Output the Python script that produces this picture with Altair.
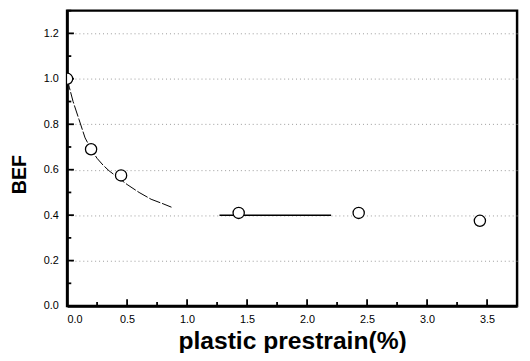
import altair as alt
import pandas as pd

# measured points
px = [0.0, 0.2, 0.45, 1.43, 2.43, 3.44]
py = [1.0, 0.69, 0.575, 0.41, 0.41, 0.375]

# fitted decay curve (dashed)
fit_x = [0.0, 0.02, 0.05, 0.1, 0.15, 0.2, 0.25, 0.3, 0.35, 0.4, 0.45, 0.5, 0.6, 0.7, 0.8, 0.87]
fit_y = [1.0, 0.96, 0.90, 0.82, 0.74, 0.69, 0.65, 0.62, 0.595, 0.575, 0.555, 0.535, 0.50, 0.47, 0.45, 0.435]

# plateau line
hx = [1.27, 2.2]
hy = [0.40, 0.40]

# ticks
x_major = [0.0, 0.5, 1.0, 1.5, 2.0, 2.5, 3.0, 3.5]
x_minor = [0.25, 0.75, 1.25, 1.75, 2.25, 2.75, 3.25, 3.75]
y_major = [0.0, 0.2, 0.4, 0.6, 0.8, 1.0, 1.2]
y_minor = [0.1, 0.3, 0.5, 0.7, 0.9, 1.1, 1.3]

W, H = 457, 300

xs = alt.Scale(domain=[0, 3.75], nice=False, zero=False)
ys = alt.Scale(domain=[0, 1.3], nice=False, zero=False)

xax = alt.Axis(values=x_major, format=".1f", ticks=False, grid=False,
               labelFont="Arial", labelFontSize=11, labelPadding=8, labelColor="black",
               domainColor="black", domainWidth=2.5,
               title="plastic prestrain(%)", titleFont="Arial", titleFontSize=25,
               titleFontWeight="bold", titleColor="black", titlePadding=4)
yax = alt.Axis(values=y_major, format=".1f", ticks=False, grid=True,
               gridColor="#999999", gridDash=[1, 3], gridWidth=1,
               labelFont="Arial", labelFontSize=11, labelPadding=9, labelColor="black",
               domainColor="black", domainWidth=2.5,
               title="BEF", titleFont="Arial", titleFontSize=20,
               titleFontWeight="bold", titleColor="black", titleY=166, titleX=-38)

X = alt.X("x:Q", scale=xs, axis=xax)
Y = alt.Y("y:Q", scale=ys, axis=yax)

pts_df = pd.DataFrame({"x": px, "y": py})
fit_df = pd.DataFrame({"x": fit_x, "y": fit_y})
h_df = pd.DataFrame({"x": hx, "y": hy})

fit = alt.Chart(fit_df).mark_line(color="black", strokeWidth=1, strokeDash=[12, 2]).encode(x=X, y=Y)
hline = alt.Chart(h_df).mark_line(color="black", strokeWidth=1.5).encode(x=X, y=Y)
pts = alt.Chart(pts_df).mark_point(shape="circle", size=130, filled=False, fill="white",
                                   fillOpacity=1, color="black", strokeWidth=1.3,
                                   opacity=1, clip=True).encode(x=X, y=Y)

tick_style = dict(color="black", strokeWidth=1.8)
xmaj = alt.Chart(pd.DataFrame({"x": x_major})).mark_rule(**tick_style).encode(
    x=X, y=alt.YDatum(0), y2=alt.Y2Datum(0.03))
xmin = alt.Chart(pd.DataFrame({"x": x_minor})).mark_rule(**tick_style).encode(
    x=X, y=alt.YDatum(0), y2=alt.Y2Datum(0.018))
ymaj = alt.Chart(pd.DataFrame({"y": y_major})).mark_rule(**tick_style).encode(
    y=Y, x=alt.XDatum(0), x2=alt.X2Datum(0.057))
ymin = alt.Chart(pd.DataFrame({"y": y_minor})).mark_rule(**tick_style).encode(
    y=Y, x=alt.XDatum(0), x2=alt.X2Datum(0.035))

chart = alt.layer(fit, hline, xmaj, xmin, ymaj, ymin, pts).properties(
    width=W, height=H,
    background="white",
    autosize=alt.AutoSizeParams(type="none"),
    padding={"left": 60, "top": 0, "right": 5, "bottom": 45},
).configure_view(stroke="black", strokeWidth=2.5)

chart.save("out.html", embed_options={"renderer": "svg", "actions": False})
